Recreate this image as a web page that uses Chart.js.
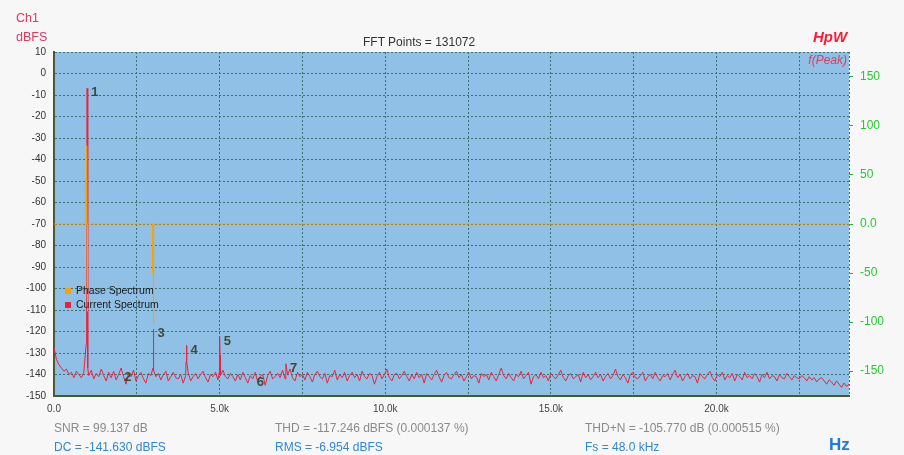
<!DOCTYPE html>
<html>
<head>
<meta charset="utf-8">
<script src="https://cdn.jsdelivr.net/npm/chart.js@4.4.1/dist/chart.umd.min.js"></script>
<style>
  body { margin: 0; background: #f7f7f7; }
  #wrap { position: relative; width: 904px; height: 455px; background: #f7f7f7; font-family: "Liberation Sans", Arial, sans-serif; }
  #wrap canvas { position: absolute; left: 0; top: 0; }
  .t { position: absolute; white-space: nowrap; line-height: 1; font-size: 12px; }
  .red { color: #e8335a; }
  .gray { color: #8a8a8a; }
  .blue { color: #2f86dc; }
</style>
</head>
<body>
<div id="wrap">
  <canvas id="fft" width="904" height="455"></canvas>
  <div class="t red" style="left:16px;top:11.5px;font-size:12.5px">Ch1</div>
  <div class="t red" style="left:16px;top:30.5px;font-size:12.5px">dBFS</div>
  <div class="t" style="left:363px;top:35.5px;color:#333">FFT Points = 131072</div>
  <div class="t" style="left:813px;top:29px;font-size:15px;font-weight:bold;font-style:italic;color:#ff1a33">HpW</div>
  <div class="t" style="right:57px;top:54px;font-style:italic;color:#d8405e">f(Peak)</div>
  <div class="t gray" style="left:54px;top:421.5px">SNR = 99.137 dB</div>
  <div class="t gray" style="left:275px;top:421.5px">THD = -117.246 dBFS (0.000137 %)</div>
  <div class="t gray" style="left:585px;top:421.5px">THD+N = -105.770 dB (0.000515 %)</div>
  <div class="t blue" style="left:54px;top:440.5px">DC = -141.630 dBFS</div>
  <div class="t blue" style="left:275px;top:440.5px">RMS = -6.954 dBFS</div>
  <div class="t blue" style="left:585px;top:440.5px">Fs = 48.0 kHz</div>
  <div class="t" style="left:829px;top:436px;font-size:17px;font-weight:bold;color:#1f7ad8">Hz</div>
</div>
<script>
// noise floor of the current spectrum, one value every 75 Hz from 0 to 24 kHz
const freqStep = 75
const noiseDb = [
  -127.5,-133,-135.5,-137,-138.5,-137.5,-140,-139,-141.5,-138.5,-140,-141.5,-139,-141,-140.5,-138,-142,-139.5,-141,-137.5,
  -140.5,-143,-139,-141.5,-138.5,-142.5,-140,-137,-141,-144.5,-139.5,-141,-138,-143,-140.5,-139,-142,-144,-139.5,-140.5,
  -138,-141,-139.5,-142.5,-140,-138.5,-143,-141,-139,-141.5,-142,-140,-144,-140.5,-139,-143,-141,-139.5,-142,-140,
  -138.5,-141.5,-143.5,-140,-141,-139,-142.5,-140.5,-138,-141,-142,-139.5,-141,-143,-140,-142.5,-139,-141.5,-144,-140.5,
  -142,-139,-143.5,-141,-140,-145,-140.5,-138.5,-142,-141,-139.5,-141.5,-138,-142,-140,-137.5,-141.5,-143,-139,-141,
  -140,-142.5,-139,-141,-143.5,-140,-138.5,-141,-142,-139.5,-144,-140.5,-141,-138,-142.5,-140,-141.5,-139,-143,-140.5,
  -139,-141.5,-140,-143,-138.5,-141,-142,-139.5,-140.5,-144.5,-141,-139,-142,-140,-137.5,-141.5,-143,-140,-139.5,-142,
  -140.5,-138.5,-141,-143,-140,-142,-139,-141.5,-140,-144,-139.5,-141,-142.5,-140,-138,-141,-143.5,-140.5,-139,-141.5,
  -142,-140,-138.5,-141.5,-140,-143,-141,-139,-142,-140.5,-141,-144,-139.5,-141,-140,-142.5,-139,-141,-143,-140,
  -137,-140.5,-142,-139.5,-141.5,-143,-140,-141,-138.5,-142,-140.5,-139,-144.5,-141,-140,-142,-139,-141.5,-140.5,-143,
  -139.5,-141,-142,-140,-138,-141.5,-143,-140.5,-139.5,-142,-141,-140,-143.5,-139,-141.5,-140,-142.5,-141,-139,-141.5,
  -140,-143,-141,-139.5,-142,-140.5,-137.5,-141,-142.5,-140,-141.5,-144,-140,-139,-141.5,-142,-140.5,-139,-143,-141,
  -140,-142,-139,-141.5,-143,-140.5,-141,-139.5,-142.5,-140,-138,-141.5,-140,-143,-141,-139.5,-142,-140.5,-141,-144,
  -139.5,-141,-142,-140,-138.5,-141.5,-143,-140,-141,-139,-142.5,-140.5,-141.5,-139.5,-143,-140,-141,-142.5,-139,-141.5,
  -140.5,-142,-139.5,-141,-143.5,-140,-141.5,-139,-142,-140.5,-141,-143,-140,-141.5,-142,-139.5,-141,-142.5,-140.5,-141.5,
  -142,-140.5,-141.5,-143,-141,-142.5,-141.5,-143.5,-142,-141.5,-143,-144.5,-142.5,-143.5,-145,-143,-144.5,-146,-144,-145.5,-144.5
]

// harmonic peaks and their skirts [Hz, dBFS]
const peakPoints = [
  [970, -126], [985, -117], [1000, -6.9], [1012, -118], [1025, -137],
  [2990, -137], [3000, -119], [3010, -138],
  [3985, -134], [4000, -126.5], [4012, -134],
  [4988, -139], [5000, -122.5], [5012, -131],
  [7000, -135]
]

// phase spectrum (right axis, degrees)
const phaseFreq = [0, 960, 970, 980, 988, 994, 1000, 1006, 1012, 1020, 2975, 2985, 2995, 3002, 3008, 3015, 24000]
const phaseDeg = [0, 0, 46, 0, 46, 80, -61, -89, -61, 0, 0, -50, 0, -50, -102, 0, 0]

// harmonic markers
const harmonicNames = ['1', '2', '3', '4', '5', '6', '7']
const harmonicFreq = [1000, 2000, 3000, 4000, 5000, 6000, 7000]
const harmonicDb = [-6.9, -139.3, -119, -126.5, -122.5, -141.6, -135]

const freqTicks = [0, 2500, 5000, 7500, 10000, 12500, 15000, 17500, 20000, 22500, 24000]
const rightTicks = [150, 100, 50, 0, -50, -100, -150]

const seriesNames = ['Phase Spectrum', 'Current Spectrum']
const seriesColors = ['#ffa000', '#f0203c']

let currentData = noiseDb
    .map((v, i) => ({x: i * freqStep, y: v}))
    .filter(p => !peakPoints.some(q => Math.abs(q[0] - p.x) < 8))
currentData = currentData.concat(peakPoints.map(p => ({x: p[0], y: p[1]})))
currentData.sort((a, b) => a.x - b.x)

const phaseData = phaseFreq.map((f, i) => ({x: f, y: phaseDeg[i]}))

Chart.defaults.font.family = '"Liberation Sans", Arial, sans-serif'

const gridColor = '#3b7373'
const axisColor = '#4b5a2d'

const plotDecor = {
    id: 'plotDecor',
    beforeDraw: (chart) => {
        const {ctx, chartArea} = chart
        ctx.save()
        ctx.fillStyle = '#90c0e6'
        ctx.fillRect(chartArea.left, chartArea.top, chartArea.right - chartArea.left, chartArea.bottom - chartArea.top)
        ctx.restore()
    },
    afterDatasetsDraw: (chart) => {
        const {ctx, chartArea, scales} = chart
        ctx.save()
        // harmonic numbers
        ctx.font = 'bold 13px "Liberation Sans", Arial, sans-serif'
        ctx.fillStyle = '#3e4a36'
        ctx.textBaseline = 'top'
        harmonicNames.forEach((name, i) => {
            const px = scales.x.getPixelForValue(harmonicFreq[i]) + 4
            const py = scales.y.getPixelForValue(harmonicDb[i]) - 2
            ctx.fillText(name, px, py)
        })
        // legend inside the plot
        ctx.font = '10.5px "Liberation Sans", Arial, sans-serif'
        ctx.textBaseline = 'middle'
        seriesNames.forEach((name, i) => {
            const lx = chartArea.left + 11
            const ly = chartArea.top + 236 + i * 14
            ctx.fillStyle = seriesColors[i]
            ctx.fillRect(lx, ly, 6, 6)
            ctx.fillStyle = '#1a1a1a'
            ctx.fillText(name, lx + 11, ly + 3.5)
        })
        ctx.restore()
    }
}

const config = {
    type: 'line',
    data: {
        datasets: [
            {
                label: seriesNames[0],
                data: phaseData,
                yAxisID: 'y2',
                borderColor: seriesColors[0],
                borderWidth: 1,
                pointRadius: 0,
                tension: 0
            },
            {
                label: seriesNames[1],
                data: currentData,
                yAxisID: 'y',
                borderColor: seriesColors[1],
                borderWidth: 1,
                pointRadius: 0,
                tension: 0
            }
        ]
    },
    options: {
        responsive: false,
        animation: false,
        layout: {padding: {top: 52, left: 0, right: 0, bottom: 0}},
        plugins: {
            legend: {display: false},
            title: {display: false},
            tooltip: {enabled: false}
        },
        scales: {
            x: {
                type: 'linear',
                min: 0,
                max: 24000,
                afterFit: (scale) => { scale.height = 59 },
                afterBuildTicks: (scale) => {
                    scale.ticks = freqTicks.map(v => ({value: v}))
                },
                ticks: {
                    autoSkip: false,
                    maxRotation: 0,
                    padding: 7,
                    color: '#444',
                    font: {size: 10},
                    callback: (v) => {
                        if (v % 5000 !== 0) return ''
                        return v === 0 ? '0.0' : (v / 1000).toFixed(1) + 'k'
                    }
                },
                grid: {color: gridColor, lineWidth: 1, drawTicks: false},
                border: {display: true, color: axisColor, width: 2, dash: [2, 2]}
            },
            y: {
                position: 'left',
                min: -150,
                max: 10,
                afterFit: (scale) => { scale.width = 54 },
                ticks: {
                    stepSize: 10,
                    padding: 8,
                    color: '#333',
                    font: {size: 10}
                },
                grid: {color: gridColor, lineWidth: 1, drawTicks: false},
                border: {display: true, color: axisColor, width: 2, dash: [2, 2]}
            },
            y2: {
                position: 'right',
                min: -175.5,
                max: 175.5,
                afterFit: (scale) => { scale.width = 55 },
                afterBuildTicks: (scale) => {
                    scale.ticks = rightTicks.map(v => ({value: v}))
                },
                ticks: {
                    padding: 7,
                    color: '#1fcc2a',
                    font: {size: 12},
                    callback: (v) => v === 0 ? '0.0' : String(v)
                },
                grid: {drawOnChartArea: false, drawTicks: true, tickLength: 4, color: '#1fb82a'},
                border: {display: false}
            }
        }
    },
    plugins: [plotDecor]
}

const myChart = new Chart(document.getElementById('fft').getContext('2d'), config)
</script>
</body>
</html>
